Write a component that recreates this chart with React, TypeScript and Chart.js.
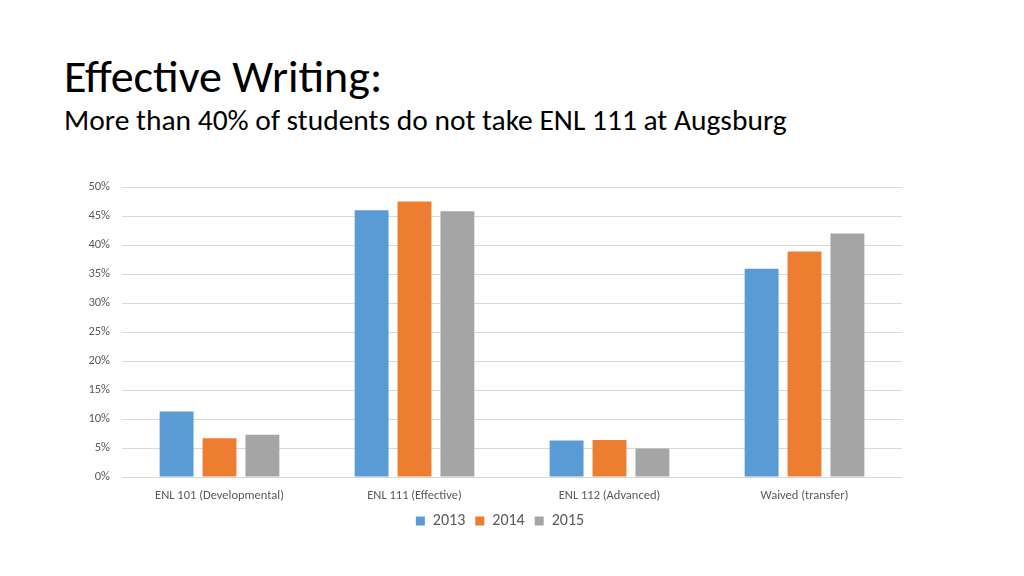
import { useEffect, useRef } from "react"
import { Chart, registerables } from "chart.js"

Chart.register(...registerables)

const categories = ["ENL 101 (Developmental)", "ENL 111 (Effective)", "ENL 112 (Advanced)", "Waived (transfer)"]
const years = ["2013", "2014", "2015"]
const values2013 = [11.3, 46.0, 6.3, 35.9]
const values2014 = [6.7, 47.5, 6.4, 38.9]
const values2015 = [7.3, 45.8, 4.9, 42.0]
const colors = ["#5b9bd5", "#ed7d31", "#a5a5a5"]

const FONT = "Carlito, Lato, 'Open Sans', sans-serif"
const TITLE_FONT = "Carlito, 'Lato Light', Lato, 'Open Sans', sans-serif"

export default function App() {
  const chartRef = useRef<HTMLCanvasElement>(null)
  const chartInstance = useRef<Chart | null>(null)

  useEffect(() => {
    if (!chartRef.current) return
    if (chartInstance.current) chartInstance.current.destroy()
    const ctx = chartRef.current.getContext("2d")
    if (!ctx) return

    const series = [values2013, values2014, values2015]

    chartInstance.current = new Chart(ctx, {
      type: "bar",
      data: {
        labels: categories,
        datasets: years.map((y, i) => ({
          label: y,
          data: series[i],
          backgroundColor: colors[i],
          borderWidth: 0,
          categoryPercentage: 0.66,
          barPercentage: 0.79,
        })),
      },
      options: {
        animation: false,
        responsive: true,
        maintainAspectRatio: false,
        layout: { padding: { left: 0, right: 24, top: 187, bottom: 37 } },
        plugins: {
          tooltip: { enabled: false },
          legend: {
            position: "bottom",
            labels: {
              boxWidth: 9,
              boxHeight: 9,
              padding: 10,
              color: "#595959",
              font: { family: FONT, size: 16 },
            },
          },
        },
        scales: {
          x: {
            afterFit: (scale: any) => {
              scale.height = 26
            },
            grid: { display: false, drawTicks: false },
            border: { display: false },
            ticks: { color: "#595959", padding: 11, font: { family: FONT, size: 12.5 } },
          },
          y: {
            min: 0,
            max: 50,
            afterFit: (scale: any) => {
              scale.width = 122
            },
            grid: { color: "#d9d9d9", drawTicks: false },
            border: { display: false },
            ticks: {
              stepSize: 5,
              padding: 12,
              color: "#595959",
              font: { family: FONT, size: 12.5 },
              callback: (v: any) => v + "%",
            },
          },
          // empty right-hand spacer so the legend centres under the slide
          spacer: {
            type: "linear",
            position: "right",
            afterFit: (scale: any) => {
              scale.width = 98
            },
            grid: { display: false, drawTicks: false },
            border: { display: false },
            ticks: { display: false },
          },
        },
      },
    })

    return () => {
      if (chartInstance.current) chartInstance.current.destroy()
    }
  }, [])

  return (
    <div style={{ position: "absolute", left: 0, top: 0, width: 1024, height: 576, background: "#fff", fontFamily: TITLE_FONT }}>
      <div style={{ position: "absolute", left: 64, top: 53, fontSize: 46, fontWeight: 300, color: "#000", lineHeight: 1, whiteSpace: "nowrap" }}>
        Effective Writing:
      </div>
      <div style={{ position: "absolute", left: 64, top: 106, fontSize: 29.5, fontWeight: 300, color: "#000", lineHeight: 1, whiteSpace: "nowrap" }}>
        More than 40% of students do not take ENL 111 at Augsburg
      </div>
      <div style={{ position: "absolute", left: 0, top: 0, width: 1024, height: 576 }}>
        <canvas ref={chartRef} />
      </div>
    </div>
  )
}
